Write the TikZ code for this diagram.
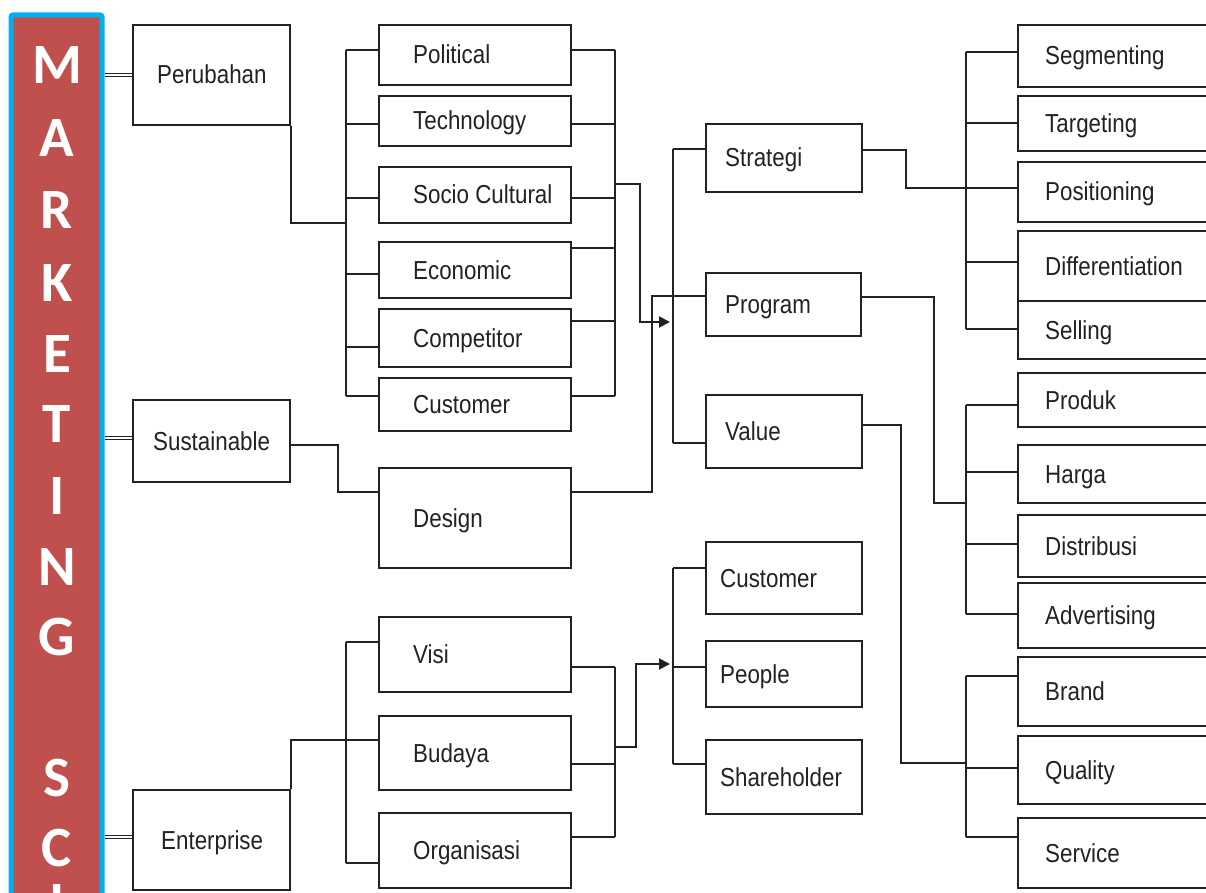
\documentclass[tikz,border=0pt]{standalone}
\usepackage{fontspec}
\setmainfont{Liberation Sans}
\newfontfamily\lblfont[FakeStretch=0.86]{Liberation Sans}
\newfontfamily\barfont{Carlito}
\usetikzlibrary{fit,arrows.meta}
\definecolor{ink}{HTML}{222222}
\definecolor{barred}{HTML}{C0504D}
\definecolor{barcyan}{HTML}{00B0F0}
\newcommand\mybox[7]{%
  \node[bx, fit={(#2,#3) (#4,#5)}] (#1) {};
  \node[lbl] (#1t) at (#6, {(#3+#5)/2+9}) {#7};}
\begin{document}
\begin{tikzpicture}[x=1pt,y=-1pt,
  bx/.style={draw=ink, line width=2pt, inner sep=0pt},
  lbl/.style={anchor=base west, inner sep=0pt, text=ink,
    font=\lblfont\fontsize{26}{30}\selectfont},
  ln/.style={draw=ink, line width=2pt},
  arr/.style={ln, -{Triangle[length=11pt,width=11pt]}},
  dbl/.style={draw=ink, double=white, double distance=1.6pt, line width=1.2pt},
  barl/.style={inner sep=0pt, text=white,
    font=\barfont\bfseries\fontsize{57}{57}\selectfont}]
\useasboundingbox (0,0) rectangle (1206,893);
\clip (0,0) rectangle (1206,893);
\fill[white] (0,0) rectangle (1206,893);

% side bar
\node[draw=barcyan, fill=barred, line width=5pt, rounded corners=2pt, inner sep=0pt,
  fit={(11,15) (102,915)}] (bar) {};
\node[barl] (lM) at (57,65) {M};
\node[barl] (lA) at (57,138) {A};
\node[barl] (lR) at (57,210) {R};
\node[barl] (lK) at (57,283) {K};
\node[barl] (lE) at (57,354) {E};
\node[barl] (lT) at (57,424) {T};
\node[barl] (lI) at (57,496) {I};
\node[barl] (lN) at (57,567) {N};
\node[barl] (lG) at (57,637) {G};
\node[barl] (lS) at (57,778) {S};
\node[barl] (lC) at (57,848) {C};
\node[barl] (lI2) at (57,903) {I};

% column 1
\mybox{per}{133}{25}{290}{125}{157}{Perubahan}
\mybox{sus}{133}{400}{290}{482}{153}{Sustainable}
\mybox{ent}{133}{790}{290}{890}{161}{Enterprise}
% column 2
\mybox{pol}{379}{25}{571}{85}{413}{Political}
\mybox{tec}{379}{96}{571}{146}{413}{Technology}
\mybox{soc}{379}{167}{571}{223}{413}{Socio Cultural}
\mybox{eco}{379}{242}{571}{298}{413}{Economic}
\mybox{com}{379}{309}{571}{367}{413}{Competitor}
\mybox{cusa}{379}{378}{571}{431}{413}{Customer}
\mybox{des}{379}{468}{571}{568}{413}{Design}
\mybox{vis}{379}{617}{571}{692}{413}{Visi}
\mybox{bud}{379}{716}{571}{790}{413}{Budaya}
\mybox{org}{379}{813}{571}{888}{413}{Organisasi}
% column 3
\mybox{str}{706}{124}{862}{192}{725}{Strategi}
\mybox{pro}{706}{273}{861}{336}{725}{Program}
\mybox{val}{706}{395}{862}{468}{725}{Value}
\mybox{cusb}{706}{542}{862}{614}{720}{Customer}
\mybox{peo}{706}{641}{862}{707}{720}{People}
\mybox{sha}{706}{740}{862}{814}{720}{Shareholder}
% column 4
\mybox{seg}{1018}{25}{1220}{87}{1045}{Segmenting}
\mybox{tar}{1018}{96}{1220}{151}{1045}{Targeting}
\mybox{pos}{1018}{162}{1220}{222}{1045}{Positioning}
\mybox{dif}{1018}{231}{1220}{301}{1045}{Differentiation}
\mybox{sel}{1018}{301}{1220}{359}{1045}{Selling}
\mybox{prd}{1018}{373}{1220}{427}{1045}{Produk}
\mybox{har}{1018}{445}{1220}{503}{1045}{Harga}
\mybox{dis}{1018}{515}{1220}{577}{1045}{Distribusi}
\mybox{adv}{1018}{583}{1220}{648}{1045}{Advertising}
\mybox{bra}{1018}{657}{1220}{726}{1045}{Brand}
\mybox{qua}{1018}{736}{1220}{804}{1045}{Quality}
\mybox{ser}{1018}{818}{1220}{888}{1045}{Service}

% double links from the bar
\draw[dbl] (bar.east |- per.west) -- (per.west);
\draw[dbl] (bar.east |- 0,438) -- (sus.west |- 0,438);
\draw[dbl] (bar.east |- 0,837) -- (ent.west |- 0,837);

% Perubahan group, left bus
\draw[ln] (per.south east) -- (per.south east |- 0,223) -- (346,223);
\draw[ln] (346,50) -- (346,396);
\draw[ln] (346,50) -- (pol.west |- 0,50);
\draw[ln] (346,124) -- (tec.west |- 0,124);
\draw[ln] (346,198) -- (soc.west |- 0,198);
\draw[ln] (346,274) -- (eco.west |- 0,274);
\draw[ln] (346,347) -- (com.west |- 0,347);
\draw[ln] (346,396) -- (cusa.west |- 0,396);
% right bus
\draw[ln] (615,50) -- (615,396);
\draw[ln] (pol.east |- 0,50) -- (615,50);
\draw[ln] (tec.east |- 0,124) -- (615,124);
\draw[ln] (soc.east |- 0,198) -- (615,198);
\draw[ln] (eco.east |- 0,248) -- (615,248);
\draw[ln] (com.east |- 0,321) -- (615,321);
\draw[ln] (cusa.east |- 0,396) -- (615,396);
\draw[arr] (615,184) -- (640,184) -- (640,322) -- (670,322);

% Strategi / Program / Value bus
\draw[ln] (673,149) -- (673,443);
\draw[ln] (673,149) -- (str.west |- 0,149);
\draw[ln] (673,296) -- (pro.west |- 0,296);
\draw[ln] (673,443) -- (val.west |- 0,443);

% Sustainable -> Design -> Program
\draw[ln] (sus.east |- 0,445) -- (338,445) -- (338,492) -- (des.west |- 0,492);
\draw[ln] (des.east |- 0,492) -- (652,492) -- (652,296) -- (pro.west |- 0,296);

% Enterprise group
\draw[ln] (ent.north east) -- (ent.north east |- 0,740) -- (346,740);
\draw[ln] (346,642) -- (346,863);
\draw[ln] (346,642) -- (vis.west |- 0,642);
\draw[ln] (346,740) -- (bud.west |- 0,740);
\draw[ln] (346,863) -- (org.west |- 0,863);
\draw[ln] (615,667) -- (615,837);
\draw[ln] (vis.east |- 0,667) -- (615,667);
\draw[ln] (bud.east |- 0,764) -- (615,764);
\draw[ln] (org.east |- 0,837) -- (615,837);
\draw[arr] (615,747) -- (636,747) -- (636,664) -- (670,664);
\draw[ln] (673,568) -- (673,764);
\draw[ln] (673,568) -- (cusb.west |- 0,568);
\draw[ln] (673,667) -- (peo.west |- 0,667);
\draw[ln] (673,764) -- (sha.west |- 0,764);

% Strategi -> STP
\draw[ln] (str.east |- 0,150) -- (906,150) -- (906,188) -- (966,188);
\draw[ln] (966,52) -- (966,329);
\draw[ln] (966,52) -- (seg.west |- 0,52);
\draw[ln] (966,123) -- (tar.west |- 0,123);
\draw[ln] (966,188) -- (pos.west |- 0,188);
\draw[ln] (966,262) -- (dif.west |- 0,262);
\draw[ln] (966,329) -- (sel.west |- 0,329);

% Program -> 4P
\draw[ln] (pro.east |- 0,297) -- (934,297) -- (934,503) -- (966,503);
\draw[ln] (966,405) -- (966,614);
\draw[ln] (966,405) -- (prd.west |- 0,405);
\draw[ln] (966,472) -- (har.west |- 0,472);
\draw[ln] (966,544) -- (dis.west |- 0,544);
\draw[ln] (966,614) -- (adv.west |- 0,614);

% Value -> BQS
\draw[ln] (val.east |- 0,425) -- (901,425) -- (901,763) -- (966,763);
\draw[ln] (966,676) -- (966,837);
\draw[ln] (966,676) -- (bra.west |- 0,676);
\draw[ln] (966,768) -- (qua.west |- 0,768);
\draw[ln] (966,837) -- (ser.west |- 0,837);
\end{tikzpicture}
\end{document}
